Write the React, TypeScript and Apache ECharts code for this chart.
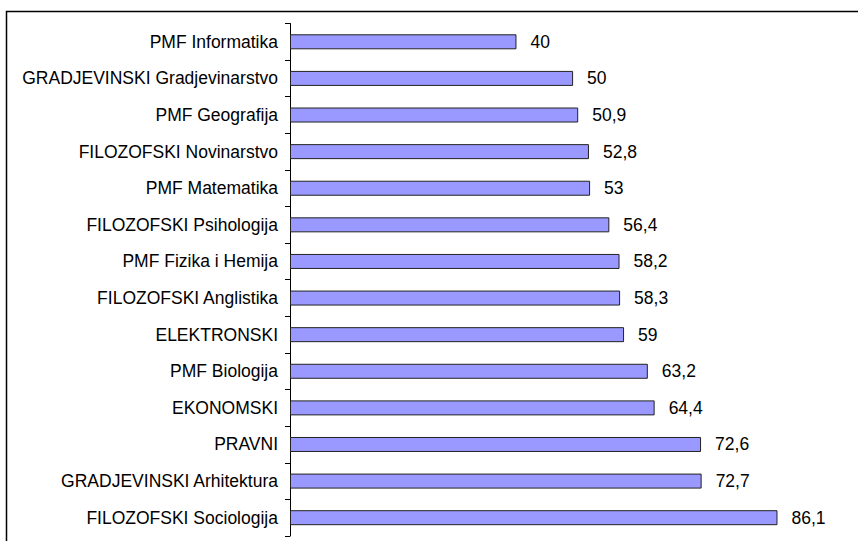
import React, { useEffect, useRef } from "react";
import * as echarts from "echarts";

const categories = [
  "PMF Informatika",
  "GRADJEVINSKI Gradjevinarstvo",
  "PMF Geografija",
  "FILOZOFSKI Novinarstvo",
  "PMF Matematika",
  "FILOZOFSKI Psihologija",
  "PMF Fizika i Hemija",
  "FILOZOFSKI Anglistika",
  "ELEKTRONSKI",
  "PMF Biologija",
  "EKONOMSKI",
  "PRAVNI",
  "GRADJEVINSKI Arhitektura",
  "FILOZOFSKI Sociologija",
];

const values = [40, 50, 50.9, 52.8, 53, 56.4, 58.2, 58.3, 59, 63.2, 64.4, 72.6, 72.7, 86.1];

export default function App() {
  const ref = useRef<HTMLDivElement>(null);
  useEffect(() => {
    if (!ref.current) return;
    const chart = echarts.init(ref.current, null, { renderer: "svg" });
    const font = "Arial, 'Liberation Sans', sans-serif";
    chart.setOption({
      animation: false,
      backgroundColor: "#ffffff",
      graphic: [
        {
          type: "rect",
          shape: { x: 6.5, y: 11.5, width: 900, height: 600 },
          style: { fill: "none", stroke: "#000", lineWidth: 1.5 },
          silent: true,
          z: 100,
        },
      ],
      grid: { left: 290, top: 23.5, width: 566.2, bottom: 5, containLabel: false },
      xAxis: {
        type: "value",
        min: 0,
        max: 100,
        show: false,
      },
      yAxis: {
        type: "category",
        data: categories,
        inverse: true,
        axisLine: { show: true, lineStyle: { color: "#000", width: 1 } },
        axisTick: { show: true, length: 5, lineStyle: { color: "#000" } },
        axisLabel: { color: "#000", fontSize: 17.5, fontFamily: font, margin: 12 },
        splitLine: { show: false },
      },
      series: [
        {
          type: "bar",
          data: values,
          barWidth: 15,
          itemStyle: { color: "#9999FF", borderColor: "#222", borderWidth: 1 },
          label: {
            show: true,
            position: "right",
            distance: 14,
            color: "#000",
            fontSize: 17.5,
            fontFamily: font,
            formatter: (p: any) => String(p.value).replace(".", ","),
          },
        },
      ],
    });
    return () => chart.dispose();
  }, []);
  return (
    <div style={{ position: "fixed", left: 0, top: 0, width: 858, height: 541 }}>
      <div ref={ref} style={{ width: 858, height: 541 }} />
    </div>
  );
}
